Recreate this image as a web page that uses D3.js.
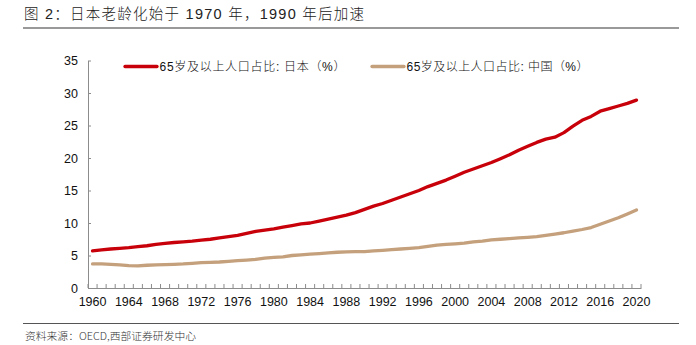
<!DOCTYPE html>
<html>
<head>
<meta charset="utf-8">
<script src="https://cdn.jsdelivr.net/npm/d3@7/dist/d3.min.js"></script>
<style>
  html, body { margin: 0; padding: 0; background: #fff; }
  svg { display: block; }
</style>
</head>
<body>
<svg id="chart" width="696" height="345"></svg>
<script>
// ---- Data ----
const years = [1960,1961,1962,1963,1964,1965,1966,1967,1968,1969,
  1970,1971,1972,1973,1974,1975,1976,1977,1978,1979,
  1980,1981,1982,1983,1984,1985,1986,1987,1988,1989,
  1990,1991,1992,1993,1994,1995,1996,1997,1998,1999,
  2000,2001,2002,2003,2004,2005,2006,2007,2008,2009,
  2010,2011,2012,2013,2014,2015,2016,2017,2018,2019,2020];

const japan = [5.7,5.85,6.0,6.1,6.2,6.35,6.5,6.7,6.85,7.0,
  7.1,7.2,7.35,7.5,7.7,7.9,8.1,8.4,8.7,8.9,
  9.1,9.35,9.6,9.85,10.0,10.3,10.6,10.9,11.2,11.6,
  12.1,12.6,13.0,13.5,14.0,14.5,15.0,15.6,16.1,16.6,
  17.2,17.8,18.3,18.8,19.3,19.9,20.5,21.2,21.8,22.4,
  22.9,23.2,23.9,24.9,25.8,26.4,27.2,27.6,28.0,28.4,28.9];

const china = [3.7,3.7,3.65,3.55,3.45,3.4,3.5,3.55,3.6,3.65,
  3.7,3.8,3.9,3.95,4.0,4.1,4.2,4.3,4.4,4.6,
  4.7,4.8,5.0,5.1,5.2,5.3,5.4,5.5,5.55,5.6,
  5.6,5.7,5.8,5.9,6.0,6.1,6.2,6.4,6.6,6.7,
  6.8,6.9,7.1,7.2,7.4,7.5,7.6,7.7,7.8,7.9,
  8.1,8.3,8.5,8.75,9.0,9.3,9.8,10.3,10.8,11.4,12.0];

const xTickLabels = [1960,1964,1968,1972,1976,1980,1984,1988,1992,1996,2000,2004,2008,2012,2016,2020];
const yTicks = [0,5,10,15,20,25,30,35];

const seriesNames = ["65岁及以上人口占比: 日本（%）", "65岁及以上人口占比: 中国（%）"];
const seriesColors = ["#C8000A", "#C4A07C"];
const titleText = "图 2：日本老龄化始于 1970 年，1990 年后加速";
const sourceText = "资料来源：OECD,西部证券研发中心";

// ---- Layout ----
const svg = d3.select("#chart");
const plotL = 88, plotR = 641, plotT = 60.5, plotB = 288;
const axisColor = "#8c8c8c";
const numFont = "'Liberation Sans', Arial, sans-serif";
const mixFont = "'Liberation Sans', Arial, 'Noto Sans CJK SC', sans-serif";
const cjkFont = "'Noto Sans CJK SC', sans-serif";

const x = d3.scaleBand().domain(years).range([plotL, plotR]).paddingInner(0).paddingOuter(0);
const y = d3.scaleLinear().domain([0, 35]).range([plotB, plotT]);

// Title
svg.append("text")
  .attr("x", 24).attr("y", 18.5)
  .attr("font-family", mixFont)
  .attr("font-size", 14.5)
  .attr("font-weight", 300)
  .attr("fill", "#222")
  .attr("textLength", 340)
  .attr("lengthAdjust", "spacing")
  .text(titleText);

// Top rule
svg.append("line")
  .attr("x1", 23).attr("x2", 679).attr("y1", 28).attr("y2", 28)
  .attr("stroke", "#999").attr("stroke-width", 2);

// Bottom rule
svg.append("line")
  .attr("x1", 23).attr("x2", 679).attr("y1", 323.5).attr("y2", 323.5)
  .attr("stroke", "#555").attr("stroke-width", 1);

// Source
svg.append("text")
  .attr("x", 25).attr("y", 340)
  .attr("font-family", cjkFont)
  .attr("font-size", 10.5)
  .attr("font-weight", 300)
  .attr("fill", "#333")
  .attr("textLength", 171)
  .attr("lengthAdjust", "spacingAndGlyphs")
  .text(sourceText);

// Y axis
const yAxis = d3.axisLeft(y).tickValues(yTicks).tickSize(-3).tickPadding(10).tickSizeOuter(0);
const gy = svg.append("g").attr("transform", `translate(${plotL},0)`).call(yAxis);
gy.select(".domain").attr("stroke", axisColor);
gy.selectAll(".tick line").attr("stroke", axisColor);
gy.selectAll(".tick text")
  .attr("font-family", numFont).attr("font-size", 12.5).attr("fill", "#111");

// X axis: labels at band centers
const xAxis = d3.axisBottom(x).tickValues(xTickLabels).tickSize(0).tickPadding(9).tickSizeOuter(0);
const gx = svg.append("g").attr("transform", `translate(0,${plotB})`).call(xAxis);
gx.select(".domain").attr("stroke", axisColor);
gx.selectAll(".tick line").remove();
gx.selectAll(".tick text")
  .attr("font-family", numFont).attr("font-size", 12.5).attr("fill", "#111");

// X minor ticks at band boundaries
const boundaries = years.map(d => x(d)).concat([x(years[years.length-1]) + x.bandwidth()]);
svg.append("g").selectAll("line").data(boundaries).join("line")
  .attr("x1", d => d).attr("x2", d => d)
  .attr("y1", plotB).attr("y2", plotB - 4)
  .attr("stroke", axisColor).attr("stroke-width", 1);

// Lines (China first, Japan on top)
const line = d3.line()
  .x((d, i) => x(years[i]) + x.bandwidth()/2)
  .y(d => y(d));

[[china, 1], [japan, 0]].forEach(([s, k]) => {
  svg.append("path")
    .datum(s)
    .attr("d", line)
    .attr("fill", "none")
    .attr("stroke", seriesColors[k])
    .attr("stroke-width", 3.3)
    .attr("stroke-linejoin", "round")
    .attr("stroke-linecap", "round");
});

// Legend
const legendItems = [
  {x1: 125, x2: 157, tx: 159.5, tl: 186},
  {x1: 372, x2: 404, tx: 406.5, tl: 182}
];
legendItems.forEach((l, k) => {
  svg.append("line")
    .attr("x1", l.x1).attr("x2", l.x2).attr("y1", 66.5).attr("y2", 66.5)
    .attr("stroke", seriesColors[k]).attr("stroke-width", 3.3).attr("stroke-linecap", "round");
  svg.append("text")
    .attr("x", l.tx).attr("y", 71)
    .attr("font-family", mixFont)
    .attr("font-size", 12)
    .attr("font-weight", 300)
    .attr("fill", "#111")
    .attr("textLength", l.tl)
    .attr("lengthAdjust", "spacing")
    .text(seriesNames[k]);
});
</script>
</body>
</html>
